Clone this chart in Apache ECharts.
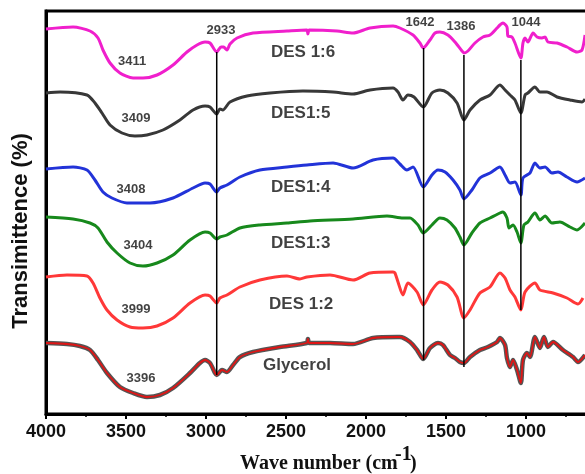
<!DOCTYPE html>
<html>
<head>
<meta charset="utf-8">
<script src="https://cdn.jsdelivr.net/npm/echarts@6/dist/echarts.min.js"></script>
<style>
  html, body { margin: 0; padding: 0; background: #fff; }
  #chart { width: 585px; height: 474px; }
</style>
</head>
<body>
<div id="chart"></div>
<script>
// FTIR spectra, stacked with offsets (arbitrary transmittance units)
// each point is [wave number, transmittance]
var des16 = [
  [4000,385],[3831,387],[3725,383],[3675,376],[3644,364],[3600,351],[3538,341],[3456,336],
  [3394,336],[3306,339],[3206,349],[3119,362],[3056,369],[3006,372],[2975,371],[2933,362],
  [2906,367],[2890,367],[2869,364],[2850,370],[2806,376],[2706,381],[2494,383],[2370,384],
  [2363,380],[2355,384],[2181,383],[2081,381],[1975,386],[1831,388],[1788,386],[1706,379],
  [1663,371],[1642,366],[1600,374],[1569,381],[1538,382],[1488,379],[1444,372],[1400,363],
  [1388,361],[1363,363],[1319,371],[1269,377],[1225,379],[1181,386],[1163,389],[1144,391],
  [1119,387],[1113,378],[1088,377],[1069,371],[1032,356],[1019,371],[1006,376],[988,372],
  [956,381],[931,377],[900,376],[881,377],[863,372],[806,371],[744,367],[681,362],[650,364],
  [631,379]
];
var des15 = [
  [4000,321],[3912,322],[3744,319],[3694,311],[3650,301],[3600,289],[3525,281],[3444,278],
  [3369,279],[3269,284],[3163,294],[3081,304],[3006,308],[2975,307],[2933,300],[2913,305],
  [2895,304],[2850,312],[2744,318],[2600,321],[2394,323],[2206,322],[2081,320],[1975,324],
  [1831,326],[1800,322],[1769,314],[1738,319],[1700,317],[1642,307],[1588,321],[1538,324],
  [1488,321],[1431,311],[1388,294],[1350,304],[1288,314],[1225,319],[1163,329],[1131,324],
  [1100,319],[1069,314],[1032,301],[1006,319],[988,321],[944,327],[913,322],[869,322],
  [806,317],[725,314],[650,312],[631,315]
];
var des14 = [
  [4000,245],[3831,247],[3744,244],[3694,234],[3644,222],[3588,216],[3494,211],[3350,211],
  [3206,216],[3081,226],[3006,231],[2975,230],[2933,222],[2913,226],[2869,229],[2788,237],
  [2663,244],[2494,247],[2369,249],[2206,251],[2081,246],[1956,254],[1831,256],[1788,250],
  [1744,244],[1706,247],[1642,227],[1588,239],[1550,244],[1506,242],[1456,234],[1413,224],
  [1388,215],[1338,224],[1288,236],[1225,241],[1163,247],[1131,239],[1100,231],[1069,232],
  [1032,219],[1019,236],[975,241],[944,251],[913,246],[881,247],[838,241],[800,242],
  [744,237],[681,232],[631,236]
];
var des13 = [
  [4000,197],[3831,195],[3725,191],[3675,186],[3619,172],[3556,161],[3475,151],[3394,148],
  [3306,151],[3206,159],[3100,174],[3006,182],[2975,181],[2933,175],[2913,177],[2869,179],
  [2788,186],[2663,189],[2494,191],[2350,193],[2081,195],[1869,198],[1769,196],[1725,196],
  [1675,189],[1642,181],[1588,189],[1538,196],[1494,194],[1444,186],[1413,177],[1388,169],
  [1338,181],[1288,191],[1225,196],[1163,201],[1144,202],[1119,196],[1106,186],[1081,189],
  [1056,182],[1032,171],[1013,189],[988,192],[944,201],[913,194],[881,198],[838,191],
  [788,192],[725,187],[681,184],[631,191]
];
var des12 = [
  [4000,137],[3869,139],[3744,138],[3706,131],[3663,116],[3619,104],[3556,94],[3475,87],
  [3394,86],[3306,88],[3206,96],[3100,111],[3006,119],[2975,118],[2933,111],[2913,116],
  [2869,119],[2788,127],[2663,134],[2494,138],[2413,135],[2369,137],[2225,139],[2081,134],
  [1975,141],[1831,142],[1819,141],[1800,132],[1769,119],[1738,131],[1681,122],[1642,109],
  [1588,124],[1538,132],[1488,129],[1431,117],[1388,96],[1350,104],[1288,121],[1225,127],
  [1163,141],[1131,136],[1100,124],[1069,117],[1032,104],[1006,122],[944,131],[913,124],
  [831,121],[744,116],[675,110],[644,116]
];
var glycerol = [
  [4000,71],[3869,70],[3788,68],[3725,64],[3675,54],[3619,41],[3538,27],[3456,21],
  [3369,17],[3288,19],[3206,26],[3100,41],[3038,51],[3006,54],[2975,51],[2944,41],
  [2933,39],[2900,44],[2869,42],[2831,49],[2788,57],[2706,62],[2538,67],[2370,71],
  [2363,75],[2355,71],[2225,71],[2081,70],[1956,76],[1806,77],[1788,77],[1725,72],
  [1681,64],[1642,55],[1600,66],[1550,71],[1519,69],[1475,59],[1444,56],[1413,52],
  [1388,51],[1350,57],[1288,64],[1238,67],[1181,72],[1163,76],[1131,69],[1119,56],
  [1100,47],[1081,54],[1056,44],[1032,31],[1019,54],[994,61],[975,57],[944,77],
  [913,66],[888,77],[863,67],[831,72],[769,64],[706,57],[675,52],[631,59]
];

// vertical peak markers: wave number, top, bottom
var peakLines = [
  [2933, 362, 39],
  [1640, 366, 54],
  [1388, 359, 47],
  [1032, 354, 104]
];

// annotations: [wave number, transmittance, text]
var peakLabels = [
  [3462,353,'3411'],[3438,296,'3409'],[3469,225,'3408'],
  [3425,169,'3404'],[3438,105,'3999'],[3406,36,'3396'],
  [2906,384,'2933'],[1663,392,'1642'],[1406,388,'1386'],[1000,392,'1044']
];
var sampleLabels = [
  [2594,362,'DES 1:6'],[2594,301,'DES1:5'],[2594,227,'DES1:4'],
  [2594,171,'DES1:3'],[2606,110,'DES 1:2'],[2644,49,'Glycerol']
];

var xTicks = [500, 4000, 500]; // min, max, step

var chart = echarts.init(document.getElementById('chart'));

function curve(data, color, width, z) {
  return {
    type: 'line', data: data, symbol: 'none', smooth: 0.25,
    lineStyle: { color: color, width: width }, z: z, silent: true
  };
}

var series = [
  curve(des16, '#f01fcc', 3, 3),
  curve(des15, '#383838', 3, 3),
  curve(des14, '#2233d8', 3, 3),
  curve(des13, '#17891c', 3, 3),
  curve(des12, '#ff3838', 3, 3),
  curve(glycerol, '#555555', 4.5, 3),
  curve(glycerol, '#e01515', 1.8, 4)
];

peakLines.forEach(function (p) {
  series.push({
    type: 'line', data: [[p[0], p[1]], [p[0], p[2]]], symbol: 'none',
    lineStyle: { color: '#000', width: 1.5 }, z: 5, silent: true
  });
});

series.push({
  type: 'scatter', symbolSize: 0, z: 6, silent: true,
  data: peakLabels.map(function (d) { return { value: [d[0], d[1]], name: d[2] }; }),
  label: {
    show: true, position: 'inside', formatter: '{b}',
    color: '#111', fontFamily: 'Liberation Sans', fontWeight: 'bold', fontSize: 13
  }
});
series.push({
  type: 'scatter', symbolSize: 0, z: 6, silent: true,
  data: sampleLabels.map(function (d) { return { value: [d[0], d[1]], name: d[2] }; }),
  label: {
    show: true, position: 'right', distance: 0, formatter: '{b}',
    color: '#111', fontFamily: 'Liberation Sans', fontWeight: 'bold', fontSize: 17
  }
});

var option = {
  backgroundColor: '#fff',
  animation: false,
  grid: {
    left: 46, right: -21, top: 11, bottom: 60,
    containLabel: false, outerBoundsMode: 'none',
    show: true, borderColor: '#000', borderWidth: 3
  },
  xAxis: {
    type: 'value', inverse: true,
    min: xTicks[0], max: xTicks[1], interval: xTicks[2],
    axisLine: { lineStyle: { color: '#000', width: 3 } },
    axisTick: { show: true, length: 5, lineStyle: { color: '#000', width: 2 } },
    minorTick: { show: true, splitNumber: 2, length: 3, lineStyle: { color: '#000', width: 1.5 } },
    splitLine: { show: false },
    axisLabel: {
      margin: 9, color: '#111', fontFamily: 'Liberation Sans', fontWeight: 'bold', fontSize: 18,
      formatter: function (v) { return v < 1000 ? '' : String(v); }
    }
  },
  yAxis: {
    type: 'value', min: 0, max: 403,
    axisLine: { show: true, lineStyle: { color: '#000', width: 3 } },
    axisTick: { show: false }, axisLabel: { show: false }, splitLine: { show: false }
  },
  graphic: [
    {
      type: 'text', x: 21, y: 231, rotation: Math.PI / 2,
      style: {
        text: 'Transimittence (%)', align: 'center', verticalAlign: 'middle',
        font: 'bold 22px "Liberation Sans"', fill: '#111'
      }
    },
    {
      type: 'text', x: 240, y: 464,
      style: {
        text: 'Wave number (cm', align: 'left', verticalAlign: 'middle',
        font: 'bold 20px "Liberation Serif"', fill: '#111'
      }
    },
    {
      type: 'text', x: 395, y: 455,
      style: {
        text: '-1', align: 'left', verticalAlign: 'middle',
        font: 'bold 20px "Liberation Serif"', fill: '#111'
      }
    },
    {
      type: 'text', x: 410, y: 464,
      style: {
        text: ')', align: 'left', verticalAlign: 'middle',
        font: 'bold 20px "Liberation Serif"', fill: '#111'
      }
    }
  ],
  series: series
};

chart.setOption(option);
</script>
</body>
</html>
